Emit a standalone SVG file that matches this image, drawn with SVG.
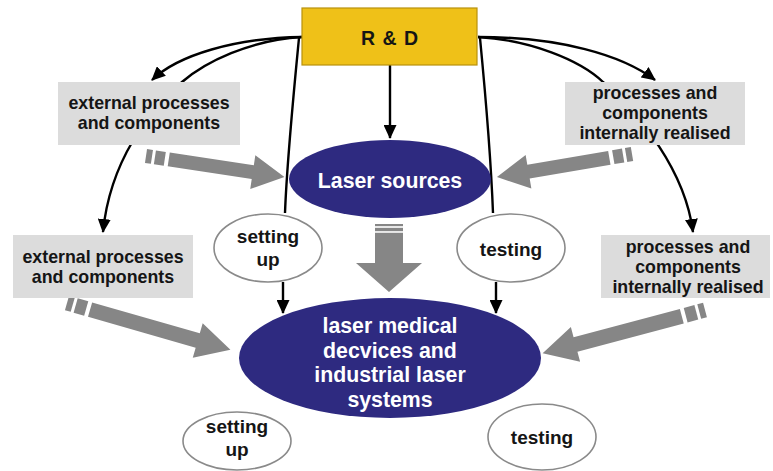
<svg xmlns="http://www.w3.org/2000/svg" width="773" height="471" viewBox="0 0 773 471">
<style>
.t{font-family:"Liberation Sans",Arial,sans-serif;font-weight:bold;text-anchor:middle}
.dark{fill:#151515;font-size:17.8px}
.ov{fill:#151515;font-size:19px}
.white{fill:#ffffff;font-size:21.3px}
.box{fill:#dcdcdc}
.oval{fill:#ffffff;stroke:#8a8a8a;stroke-width:1.6}
.navy{fill:#2e2a80}
.ln{fill:none;stroke:#000;stroke-width:2.4}
.blk{fill:#868686}
</style>
<defs>
<marker id="ah" markerUnits="userSpaceOnUse" markerWidth="14" markerHeight="13" refX="13" refY="6.5" orient="auto">
<path d="M0,0 L14,6.5 L0,13 Z" fill="#000"/>
</marker>
</defs>
<rect width="773" height="471" fill="#fff"/>
<g id="connectors">
<path class="ln" d="M302,37 C235,38 178,55 152,80" marker-end="url(#ah)"/>
<path class="ln" d="M302,37 C250,40 205,62 182,82 C150,110 110,160 103,232" marker-end="url(#ah)"/>
<path class="ln" d="M478,37 C560,37 622,55 655,80" marker-end="url(#ah)"/>
<path class="ln" d="M478,37 C530,40 580,60 603,82 C640,115 685,170 693,232" marker-end="url(#ah)"/>
<path class="ln" d="M299,38 C293,100 287,160 285,213"/>
<path class="ln" d="M480,38 C486,100 491,160 493,213"/>
<path class="ln" d="M390,65 L390,138" marker-end="url(#ah)"/>
<path class="ln" d="M283,282 L283,313" marker-end="url(#ah)"/>
<path class="ln" d="M496,282 L496,313" marker-end="url(#ah)"/>
<g id="block-arrows" class="blk">
<g transform="translate(146,156) rotate(8.6)">
<rect x="0" y="-7" width="6" height="14"/><rect x="9" y="-7" width="10" height="14"/>
<path d="M23,-7 L108,-7 L108,-17 L140,0 L108,17 L108,7 L23,7 Z"/>
</g>
<g transform="translate(632,154) rotate(170.3)">
<rect x="0" y="-7" width="6" height="14"/><rect x="9" y="-7" width="10" height="14"/>
<path d="M23,-7 L105,-7 L105,-17 L137,0 L105,17 L105,7 L23,7 Z"/>
</g>
<g transform="translate(67,303) rotate(16)">
<rect x="0" y="-7.5" width="6" height="15"/><rect x="9" y="-7.5" width="11" height="15"/>
<path d="M24,-7.5 L136,-7.5 L136,-18 L170,0 L136,18 L136,7.5 L24,7.5 Z"/>
</g>
<g transform="translate(705,310) rotate(165.1)">
<rect x="0" y="-7.5" width="6" height="15"/><rect x="9" y="-7.5" width="11" height="15"/>
<path d="M24,-7.5 L134,-7.5 L134,-18 L168,0 L134,18 L134,7.5 L24,7.5 Z"/>
</g>
<g transform="translate(389,224) rotate(90)">
<rect x="0" y="-14" width="2.2" height="28"/><rect x="3.8" y="-14" width="3.4" height="28"/>
<path d="M8.8,-14 L39,-14 L39,-33 L68,0 L39,33 L39,14 L8.8,14 Z"/>
</g>
</g>
</g>
<g id="rd">
<rect x="302" y="8" width="175" height="57" fill="#efc118" stroke="#b8920c" stroke-width="1.2"/>
<text class="t" x="390" y="45" font-size="19.5" fill="#151515" letter-spacing="1">R &amp; D</text>
</g>
<g id="ext-top">
<rect class="box" x="58" y="82" width="182" height="63"/>
<text class="t dark" x="149" y="109">external processes</text>
<text class="t dark" x="149" y="129">and components</text>
</g>
<g id="int-top">
<rect class="box" x="565" y="82" width="180" height="63"/>
<text class="t dark" x="655" y="99">processes and</text>
<text class="t dark" x="655" y="119">components</text>
<text class="t dark" x="655" y="139">internally realised</text>
</g>
<g id="laser-sources">
<ellipse class="navy" cx="390" cy="179" rx="101" ry="39"/>
<text class="t white" x="390" y="188">Laser sources</text>
</g>
<g id="ext-bottom">
<rect class="box" x="13" y="235" width="180" height="63"/>
<text class="t dark" x="103" y="263">external processes</text>
<text class="t dark" x="103" y="283">and components</text>
</g>
<g id="int-bottom">
<rect class="box" x="601" y="235" width="169" height="63"/>
<text class="t dark" x="688" y="253">processes and</text>
<text class="t dark" x="688" y="273">components</text>
<text class="t dark" x="688" y="293">internally realised</text>
</g>
<g id="setting-up-1">
<ellipse class="oval" cx="268" cy="248" rx="54" ry="34"/>
<text class="t ov" x="268" y="243">setting</text>
<text class="t ov" x="268" y="266">up</text>
</g>
<g id="testing-1">
<ellipse class="oval" cx="511" cy="248" rx="54" ry="34"/>
<text class="t ov" x="511" y="256">testing</text>
</g>
<g id="laser-systems">
<ellipse class="navy" cx="390" cy="358" rx="151" ry="60"/>
<text class="t white" x="390" y="333">laser medical</text>
<text class="t white" x="390" y="357.5">decvices and</text>
<text class="t white" x="390" y="382">industrial laser</text>
<text class="t white" x="390" y="406.5">systems</text>
</g>
<g id="setting-up-2">
<ellipse class="oval" cx="237" cy="441" rx="54" ry="29"/>
<text class="t ov" x="237" y="433">setting</text>
<text class="t ov" x="237" y="456">up</text>
</g>
<g id="testing-2">
<ellipse class="oval" cx="542" cy="437" rx="54" ry="33"/>
<text class="t ov" x="542" y="444">testing</text>
</g>
</svg>
